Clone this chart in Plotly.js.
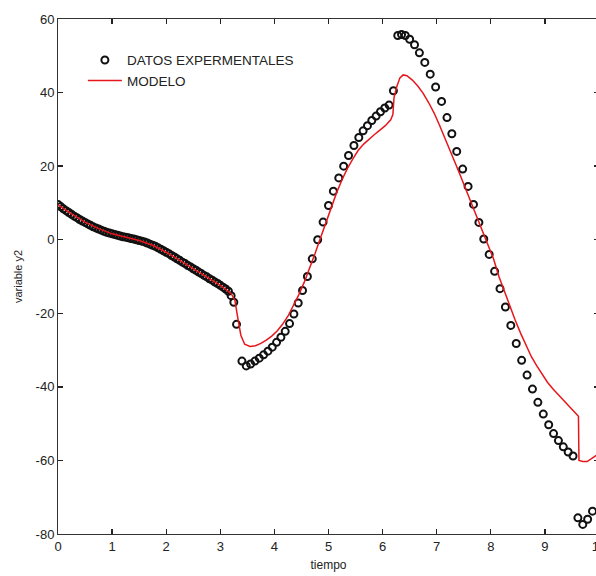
<!DOCTYPE html>
<html>
<head>
<meta charset="utf-8">
<script src="https://cdn.plot.ly/plotly-3.0.1.min.js"></script>
<style>
html, body { margin: 0; padding: 0; overflow: hidden; background: #fff; }
#chart { width: 600px; height: 576px; }
</style>
</head>
<body>
<div id="chart"></div>
<script>
// Experimental data (DATOS EXPERMENTALES)
const dataX = [
  0.00,0.05,0.10,0.15,0.20,0.25,0.30,0.35,0.40,0.45,0.50,0.55,0.60,0.65,0.70,0.75,0.80,0.85,0.90,0.95,
  1.00,1.05,1.10,1.15,1.20,1.25,1.30,1.35,1.40,1.45,1.50,1.55,1.60,1.65,1.70,1.75,1.80,1.85,1.90,1.95,
  2.00,2.05,2.10,2.15,2.20,2.25,2.30,2.35,2.40,2.45,2.50,2.55,2.60,2.65,2.70,2.75,2.80,2.85,2.90,2.95,
  3.00,3.05,3.10,3.15,3.20,3.25,3.30,
  3.40,3.48,3.56,3.64,3.72,3.80,3.88,3.96,4.04,4.12,4.20,4.28,4.36,4.44,4.52,4.61,4.70,4.80,4.90,5.00,
  5.09,5.19,5.28,5.37,5.47,5.56,5.64,5.72,5.80,5.88,5.96,6.04,6.12,6.20,
  6.28,6.35,6.42,6.50,6.59,6.68,6.78,6.88,6.98,7.09,7.19,7.28,7.37,7.48,7.58,7.68,7.78,7.87,7.97,
  8.07,8.17,8.27,8.37,8.47,8.57,8.67,8.77,8.87,8.97,9.07,9.16,9.25,9.34,9.43,9.52,
  9.61,9.70,9.79,9.88
];
const dataY = [
  9.6,9.0,8.4,7.9,7.4,6.9,6.4,6.0,5.5,5.1,4.7,4.3,3.9,3.5,3.2,2.9,2.6,2.3,2.0,1.8,
  1.6,1.4,1.2,1.0,0.8,0.7,0.5,0.3,0.2,0.0,-0.2,-0.4,-0.6,-0.9,-1.2,-1.5,-1.8,-2.2,-2.6,-3.0,
  -3.4,-3.8,-4.3,-4.7,-5.2,-5.6,-6.1,-6.5,-7.0,-7.4,-7.9,-8.3,-8.8,-9.2,-9.7,-10.1,-10.6,-11.0,-11.5,-11.9,
  -12.4,-12.9,-13.4,-14.0,-15.2,-17.0,-23.0,
  -33.0,-34.3,-33.8,-33.0,-32.2,-31.3,-30.3,-29.2,-27.9,-26.5,-24.9,-22.8,-20.2,-17.2,-13.8,-10.0,-5.2,0.0,4.8,9.3,
  13.2,16.8,20.0,22.9,25.6,27.8,29.6,31.0,32.4,33.6,34.8,35.8,36.6,40.5,
  55.5,55.8,55.5,54.5,53.0,50.8,48.2,45.0,41.5,37.6,33.2,28.8,24.0,19.2,14.5,9.6,4.7,0.2,-4.0,
  -8.6,-13.3,-18.3,-23.3,-28.2,-32.8,-36.8,-40.6,-44.2,-47.4,-50.3,-52.7,-54.6,-56.3,-57.7,-58.8,
  -75.6,-77.4,-76.0,-73.8
];
// Model (MODELO)
const modelX = [
  0.00,0.25,0.50,0.75,1.00,1.25,1.50,1.75,2.00,2.25,2.50,2.75,3.00,3.20,3.27,3.32,3.38,3.45,3.55,3.65,
  3.75,3.85,3.95,4.05,4.15,4.25,4.35,4.45,4.55,4.65,4.75,4.85,4.95,5.05,5.15,5.25,5.35,5.45,5.55,5.65,
  5.75,5.85,5.95,6.05,6.15,6.19,6.21,6.26,6.32,6.38,6.45,6.55,6.65,6.75,6.85,6.95,7.05,7.15,7.25,7.35,
  7.45,7.55,7.65,7.75,7.85,7.95,8.05,8.15,8.25,8.35,8.45,8.55,8.65,8.75,8.85,8.95,9.05,9.15,9.25,9.35,
  9.45,9.55,9.62,9.63,9.70,9.78,9.85,9.95
];
const modelY = [
  9.5,7.0,4.8,3.0,1.6,0.7,-0.2,-1.5,-3.4,-5.6,-7.9,-10.1,-12.4,-14.6,-16.5,-21.0,-26.0,-28.4,-29.0,-28.8,
  -28.2,-27.3,-26.2,-24.8,-23.0,-20.8,-18.0,-15.0,-11.6,-7.8,-3.8,0.4,4.6,8.8,12.8,16.3,19.4,22.0,24.3,26.0,
  27.4,28.6,29.8,31.0,32.6,34.0,38.5,41.5,44.0,44.8,44.6,43.4,41.8,39.8,37.3,34.5,31.2,27.8,24.2,20.6,
  17.0,13.3,9.8,6.2,2.6,-1.0,-5.2,-10.0,-14.0,-18.0,-21.8,-25.4,-28.8,-31.8,-34.3,-36.7,-38.8,-40.6,-42.2,-43.7,
  -45.2,-46.8,-48.0,-60.0,-60.3,-60.3,-59.5,-58.6
];
const xTicks = [0,1,2,3,4,5,6,7,8,9,10];
const yTicks = [-80,-60,-40,-20,0,20,40,60];

const traces = [
  {
    x: dataX, y: dataY, type: 'scatter', mode: 'markers',
    name: 'DATOS EXPERMENTALES',
    marker: { symbol: 'circle-open', size: 7, color: '#111', line: { width: 2, color: '#111' } }
  },
  {
    x: modelX, y: modelY, type: 'scatter', mode: 'lines',
    name: 'MODELO',
    line: { color: '#e8161b', width: 1.5 }
  }
];

const axisCommon = {
  showgrid: false, zeroline: false, showline: true, linecolor: '#333', linewidth: 1,
  mirror: 'ticks', ticks: 'inside', ticklen: 5, tickwidth: 1.3, tickcolor: '#222',
  ticklabeloverflow: 'allow',
  tickfont: { family: 'Liberation Sans, Arial, sans-serif', size: 13, color: '#222' }
};

const layout = {
  width: 600, height: 576,
  margin: { l: 58, r: 1, t: 19, b: 42 },
  paper_bgcolor: '#fff', plot_bgcolor: '#fff',
  showlegend: true,
  legend: {
    x: 0.046, y: 0.95, xanchor: 'left', yanchor: 'top',
    itemwidth: 34,
    bgcolor: 'rgba(0,0,0,0)', borderwidth: 0,
    font: { family: 'Liberation Sans, Arial, sans-serif', size: 13.5, color: '#222' }
  },
  xaxis: Object.assign({}, axisCommon, {
    range: [0, 10], tickvals: xTicks, ticktext: xTicks.map(String),
    title: { text: 'tiempo', font: { family: 'Liberation Sans, Arial, sans-serif', size: 12, color: '#222' }, standoff: 8 }
  }),
  yaxis: Object.assign({}, axisCommon, {
    range: [-80, 60], tickvals: yTicks, ticktext: yTicks.map(String),
    title: { text: 'variable y2', font: { family: 'Liberation Sans, Arial, sans-serif', size: 11, color: '#222' }, standoff: 10 }
  })
};

Plotly.newPlot('chart', traces, layout, { displayModeBar: false, staticPlot: true });
</script>
</body>
</html>
